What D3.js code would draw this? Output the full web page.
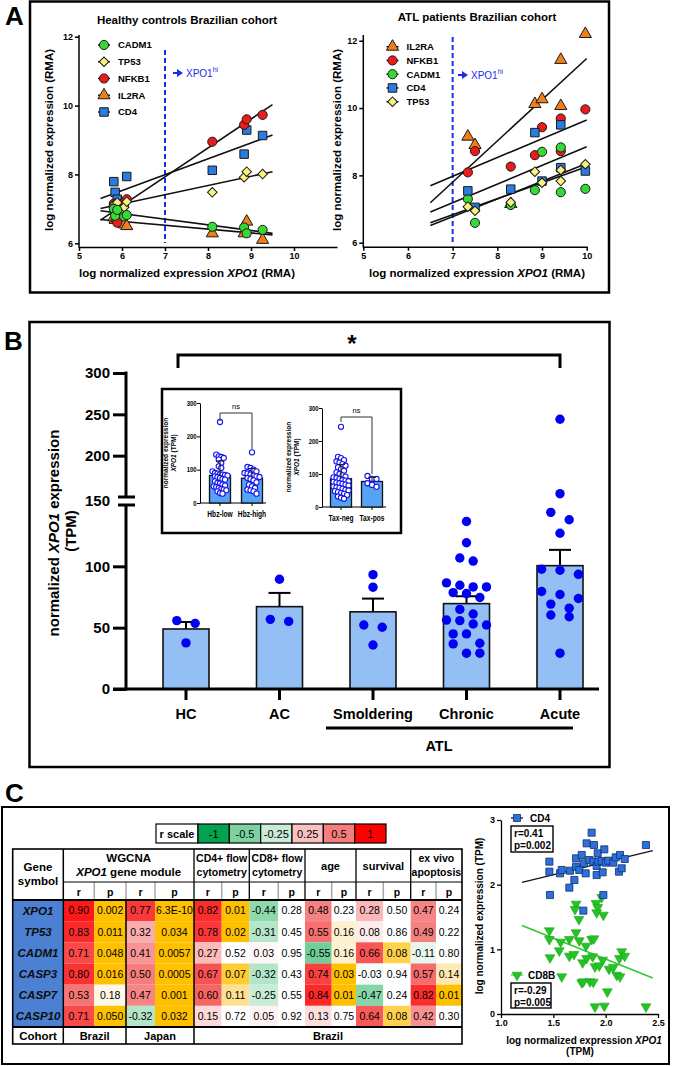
<!DOCTYPE html>
<html><head><meta charset="utf-8">
<script src="https://cdn.jsdelivr.net/npm/d3@7"></script>
<style>
html,body{margin:0;padding:0;background:#fff;}
svg{display:block;}
text{font-family:"Liberation Sans",Arial,Helvetica,sans-serif;}
</style></head>
<body>
<svg id="fig" width="685" height="1066"></svg>
<script>
// ================= DATA =================
// Panel A – healthy controls (RMA)
const hcXPO1  = [5.81, 5.84, 5.89, 6.05, 6.11, 8.10, 8.84, 8.90, 9.27];
const hcCADM1 = [7.00, 6.80, 6.97, 6.78, 6.82, 6.48, 6.46, 6.29, 6.39];
const hcTP53  = [7.10, 7.15, 7.18, 7.05, 7.21, 7.48, 7.92, 8.08, 8.01];
const hcNFKB1 = [7.15, 6.95, 6.60, 7.20, 7.28, 8.95, 9.44, 9.60, 9.73];
const hcIL2RA = [6.75, 6.68, 6.72, 6.55, 6.50, 6.29, 6.29, 6.63, 6.10];
const hcCD4   = [7.79, 7.48, 7.28, 7.15, 7.94, 8.12, 8.59, 9.29, 9.13];
// Panel A – ATL patients (RMA)
const atlXPO1  = [7.34, 7.50, 8.30, 8.84, 9.00, 9.42, 9.42, 9.97];
const atlIL2RA = [9.15, 8.90, 7.15, 10.12, 10.26, 11.43, 10.06, 12.20];
const atlNFKB1 = [8.09, 8.72, 8.26, 8.60, 9.43, 9.69, 8.72, 9.96];
const atlCADM1 = [7.30, 6.59, 7.12, 7.56, 8.70, 8.83, 7.50, 7.60];
const atlCD4   = [7.54, 7.05, 7.59, 9.27, 7.83, 9.50, 8.23, 8.13];
const atlTP53  = [7.07, 6.95, 7.20, 8.11, 7.78, 8.16, 7.83, 8.33];
const hcLegend  = ["CADM1", "TP53", "NFKB1", "IL2RA", "CD4"];
const atlLegend = ["IL2RA", "NFKB1", "CADM1", "CD4", "TP53"];
const aXTicks = [5, 6, 7, 8, 9, 10];
const aYTicks = [6, 8, 10, 12];

// Panel B – XPO1 TPM by group
const bGroups = ["HC", "AC", "Smoldering", "Chronic", "Acute"];
const bHC = [55.7, 53.5, 37.6];
const bAC = [55.1, 56.8, 89.5];
const bSmoldering = [93.2, 83.0, 52.2, 50.3, 35.9];
const bChronic = [136.6, 119.2, 106.8, 104.3, 86.5, 84.6, 83.2, 83.2, 78.6, 77.8, 74.6, 64.9, 61.1, 56.2, 55.7, 53.0, 52.2, 44.9, 44.9, 37.3, 36.8, 29.2, 29.2];
const bAcute = [244, 154, 144, 138, 127, 97.6, 96.8, 93.5, 79.5, 77.0, 73.8, 69.2, 65.9, 60.3, 58.9, 29.2];
const bTicksLow = [0, 50, 100];
const bTicksHigh = [200, 250, 300];
// Panel B inset
const hbzGroups = ["Hbz-low", "Hbz-high"];
const hbzLow = [243,145,140,138,135,130,120,110,105,95,90,88,86,85,84,82,80,78,75,72,70,65,60,58,55,52,50,48,45,42,40,38,35,30,28];
const hbzHigh = [152,108,105,100,95,90,88,85,82,80,78,75,72,68,62,55,50,45,40,38,35,28];
const taxGroups = ["Tax-neg", "Tax-pos"];
const taxNeg = [243,152,148,142,138,135,130,125,120,115,110,105,100,96,92,90,88,85,82,80,78,76,74,72,70,68,65,62,60,58,55,52,50,48,45,42,40,36,32,28,25];
const taxPos = [94, 85, 85, 72, 67, 61];
const insetTicks = [0, 100, 200, 300];

// Panel C – table
const genes = ["XPO1", "TP53", "CADM1", "CASP3", "CASP7", "CASP10"];
const brazilWgcnaR = [0.90, 0.83, 0.71, 0.80, 0.53, 0.71];
const brazilWgcnaP = ["0.002", "0.011", "0.048", "0.016", "0.18", "0.050"];
const japanWgcnaR  = [0.77, 0.32, 0.41, 0.50, 0.47, -0.32];
const japanWgcnaP  = ["6.3E-10", "0.034", "0.0057", "0.0005", "0.001", "0.032"];
const cd4FlowR = [0.82, 0.78, 0.27, 0.67, 0.60, 0.15];
const cd4FlowP = ["0.01", "0.02", "0.52", "0.07", "0.11", "0.72"];
const cd8FlowR = [-0.44, -0.31, 0.03, -0.32, -0.25, 0.05];
const cd8FlowP = ["0.28", "0.45", "0.95", "0.43", "0.55", "0.92"];
const ageR = [0.48, 0.55, -0.55, 0.74, 0.84, 0.13];
const ageP = ["0.23", "0.16", "0.16", "0.03", "0.01", "0.75"];
const survivalR = [0.28, 0.08, 0.66, -0.03, -0.47, 0.64];
const survivalP = ["0.50", "0.86", "0.08", "0.94", "0.24", "0.08"];
const apoptosisR = [0.47, 0.49, -0.11, 0.57, 0.82, 0.42];
const apoptosisP = ["0.24", "0.22", "0.80", "0.14", "0.01", "0.30"];
const rScaleSteps = [-1, -0.5, -0.25, 0.25, 0.5, 1];
// Panel C – scatter (log TPM)
const cd4X = [1.462,1.462,1.468,1.564,1.580,1.659,1.653,1.701,1.717,1.717,1.748,1.771,1.787,1.793,1.809,1.818,1.844,1.866,1.888,1.882,1.914,1.914,1.924,1.930,1.962,1.971,1.978,1.987,2.000,2.025,2.073,2.096,2.127,2.137,2.153,2.182,2.385];
const cd4Y = [2.356,2.201,1.840,2.175,2.227,2.216,1.954,2.072,2.278,2.407,2.227,2.459,1.598,2.330,2.175,2.639,2.381,2.804,2.613,2.356,2.289,2.149,2.485,2.356,2.366,2.191,1.840,2.546,2.340,2.371,2.340,2.423,2.201,2.459,2.253,2.397,2.613];
const cd8bX = [1.962,1.717,1.707,1.745,1.908,1.924,1.914,1.978,1.462,1.462,1.570,1.653,1.717,1.748,1.812,1.866,1.888,1.468,1.557,1.653,1.697,1.780,1.818,1.876,1.898,1.939,1.971,2.032,2.073,2.105,2.137,2.131,2.153,2.182,1.580,1.771,1.787,1.850,1.882,2.016,1.898,1.987,2.385];
const cd8bY = [1.804,1.701,1.619,1.464,1.711,1.649,1.567,1.531,1.289,1.155,1.113,1.155,1.258,1.134,1.052,1.155,1.165,0.871,0.979,0.897,0.923,0.794,0.861,0.887,0.732,0.747,0.835,0.696,0.722,0.603,0.577,0.861,0.964,0.897,0.577,0.485,0.500,0.500,0.495,0.345,0.113,0.124,0.113];
const sXTicks = [1.0, 1.5, 2.0, 2.5];
const sYTicks = [0, 1, 2, 3];

// ================= HELPERS =================
const svg = d3.select("#fig");
function txt(g, x, y, s, o = {}) {
  const t = g.append("text").attr("x", x).attr("y", y).text(s)
    .attr("font-size", o.size || 10).attr("font-weight", o.weight || "normal")
    .attr("text-anchor", o.anchor || "start").attr("fill", o.fill || "#000");
  if (o.rotate) t.attr("transform", `rotate(${o.rotate},${x},${y})`);
  if (o.style) t.attr("font-style", o.style);
  return t;
}
function rich(g, x, y, parts, o = {}) {
  const t = g.append("text").attr("x", x).attr("y", y)
    .attr("font-size", o.size || 10).attr("font-weight", o.weight || "normal")
    .attr("text-anchor", o.anchor || "start").attr("fill", o.fill || "#000");
  if (o.rotate) t.attr("transform", `rotate(${o.rotate},${x},${y})`);
  parts.forEach(p => t.append("tspan").text(p[0]).attr("font-style", p[1] ? "italic" : "normal"));
  return t;
}
function line(g, x1, y1, x2, y2, w = 1, c = "#000") {
  return g.append("line").attr("x1", x1).attr("y1", y1).attr("x2", x2).attr("y2", y2)
    .attr("stroke", c).attr("stroke-width", w);
}
function styleAxis(sel, size, weight, sw) {
  sel.attr("font-family", null).attr("font-size", null);
  sel.selectAll("text").attr("font-size", size).attr("font-weight", weight).attr("fill", "#000");
  sel.selectAll("line,path").attr("stroke", "#000").attr("stroke-width", sw);
}
function linfit(xs, ys) {
  const mx = d3.mean(xs), my = d3.mean(ys);
  let sxy = 0, sxx = 0;
  xs.forEach((x, i) => { sxy += (x - mx) * (ys[i] - my); sxx += (x - mx) * (x - mx); });
  const b = sxy / sxx;
  return { a: my - b * mx, b };
}
function swarm(vals, yfn, rowH, maxSp, width) {
  const pts = vals.map(v => ({ v, y: yfn(v), dx: 0 })).sort((a, b) => a.y - b.y);
  const rows = []; let cur = null;
  pts.forEach(p => {
    if (!cur || p.y - cur.y0 > rowH) { cur = { y0: p.y, pts: [] }; rows.push(cur); }
    cur.pts.push(p);
  });
  const maxRow = d3.max(rows, r => r.pts.length);
  const d = maxRow > 1 ? Math.min(maxSp, width / (maxRow - 1)) : 0;
  rows.forEach(r => r.pts.forEach((p, i) => p.dx = (i - (r.pts.length - 1) / 2) * d));
  return pts;
}

// ================= PANEL A =================
const geneStyle = {
  CADM1: { shape: "circle", fill: "#35d835" },
  TP53: { shape: "diamond", fill: "#f8f27c" },
  NFKB1: { shape: "circle", fill: "#ec1b1b" },
  IL2RA: { shape: "triangle", fill: "#f07f1a" },
  CD4: { shape: "square", fill: "#2b7ce0" }
};
function symPath(shape) {
  if (shape === "circle") return d3.symbol(d3.symbolCircle, 66)();
  if (shape === "square") return d3.symbol(d3.symbolSquare, 72)();
  if (shape === "diamond") return d3.symbol(d3.symbolSquare, 46)();
  return d3.symbol(d3.symbolTriangle, 64)();
}
function drawSym(g, shape, fill, cx, cy) {
  g.append("path").attr("d", symPath(shape))
    .attr("transform", `translate(${cx},${cy})` + (shape === "diamond" ? " rotate(45)" : ""))
    .attr("fill", fill).attr("stroke", "#1a1a1a").attr("stroke-width", 1);
}
function arrowHi(g, x0, yc) {
  g.append("path").attr("fill", "#1a2cf0")
    .attr("d", `M${x0},${yc - 1} h4 v-3 l6,4 l-6,4 v-3 h-4 z`);
  const t = g.append("text").attr("x", x0 + 13).attr("y", yc + 3.6).attr("font-size", 10).attr("fill", "#1a2cf0");
  t.append("tspan").text("XPO1");
  t.append("tspan").attr("dy", -4.5).attr("font-size", 7).text("hi");
}
svg.append("rect").attr("x", 30).attr("y", 1.5).attr("width", 579).attr("height", 291)
  .attr("fill", "none").attr("stroke", "#000").attr("stroke-width", 2.5);
txt(svg, 5, 25, "A", { size: 26, weight: "bold" });

function panelA(o) {
  const g = svg.append("g");
  const x = d3.scaleLinear().domain(o.xDom).range(o.xRng);
  const y = d3.scaleLinear().domain([6, 12]).range(o.yRng);
  txt(g, o.titleX, o.titleY, o.title, { size: 11.5, weight: "bold", anchor: "middle" });
  const xa = g.append("g").attr("transform", `translate(0,${o.baseY})`)
    .call(d3.axisBottom(x).tickValues(aXTicks).tickSize(4).tickSizeOuter(0).tickPadding(2).tickFormat(d3.format("d")));
  styleAxis(xa, 9, "bold", 1.5);
  const ya = g.append("g").attr("transform", `translate(${o.xRng[0]},0)`)
    .call(d3.axisLeft(y).tickValues(aYTicks).tickSize(4).tickPadding(2).tickFormat(d3.format("d")));
  ya.select(".domain").remove();
  styleAxis(ya, 9, "bold", 1.5);
  line(g, o.xRng[0], o.baseY + 0.75, o.xRng[0], o.topY, 1.5);
  line(g, x(7), o.dashY[0], x(7), o.dashY[1], 2, "#1a2cf0").attr("stroke-dasharray", "5,3");
  arrowHi(g, o.arrowX, o.arrowY);
  o.order.forEach(gene => {
    const f = linfit(o.xs, o.data[gene]);
    line(g, x(o.fit[0]), y(f.a + f.b * o.fit[0]), x(o.fit[1]), y(f.a + f.b * o.fit[1]), 1.6, "#111");
  });
  o.order.forEach(gene => {
    const st = geneStyle[gene];
    o.data[gene].forEach((v, i) => drawSym(g, st.shape, st.fill, x(o.xs[i]), y(v)));
  });
  o.legend.forEach((gene, i) => {
    const yy = o.legY + i * o.legStep;
    line(g, o.legX - 6, yy, o.legX + 6, yy, 1.4);
    drawSym(g, geneStyle[gene].shape, geneStyle[gene].fill, o.legX, yy);
    txt(g, o.legX + 14, yy + 3.4, gene, { size: 9.5, weight: "bold" });
  });
  rich(g, o.titleX, 277, [["log normalized expression ", false], ["XPO1", true], [" (RMA)", false]],
    { size: 11.5, weight: "bold", anchor: "middle" });
  txt(g, o.yTitleX, 140, "log normalized expression (RMA)", { size: 11.5, weight: "bold", anchor: "middle", rotate: -90 });
}
panelA({
  xDom: [5, 11], xRng: [79, 337], yRng: [243.3, 36.7], baseY: 247, topY: 35,
  title: "Healthy controls Brazilian cohort", titleX: 187, titleY: 23.5, yTitleX: 52.5,
  dashY: [50, 243], arrowX: 173, arrowY: 73,
  xs: hcXPO1, data: { CADM1: hcCADM1, TP53: hcTP53, NFKB1: hcNFKB1, IL2RA: hcIL2RA, CD4: hcCD4 },
  order: ["CD4", "IL2RA", "NFKB1", "TP53", "CADM1"], fit: [5.5, 9.5],
  legend: hcLegend, legX: 104, legY: 45, legStep: 16.75
});
panelA({
  xDom: [5, 10], xRng: [363.3, 586.7], yRng: [242.7, 40.7], baseY: 246.7, topY: 35,
  title: "ATL patients Brazilian cohort", titleX: 477, titleY: 21, yTitleX: 341,
  dashY: [37, 245], arrowX: 458, arrowY: 75,
  xs: atlXPO1, data: { IL2RA: atlIL2RA, NFKB1: atlNFKB1, CADM1: atlCADM1, CD4: atlCD4, TP53: atlTP53 },
  order: ["IL2RA", "NFKB1", "CADM1", "CD4", "TP53"], fit: [6.5, 10],
  legend: atlLegend, legX: 392.5, legY: 46.7, legStep: 13.75
});

// ================= PANEL B =================
const gB = svg.append("g");
gB.append("rect").attr("x", 29.5).attr("y", 322).attr("width", 580).attr("height", 445)
  .attr("fill", "none").attr("stroke", "#000").attr("stroke-width", 2.5);
txt(gB, 4, 350, "B", { size: 26, weight: "bold" });
const bx = d3.scalePoint().domain(bGroups).range([186, 560]);
const byLow = d3.scaleLinear().domain([0, 150]).range([689, 505]);
const byHigh = d3.scaleLinear().domain([150, 300]).range([497, 373]);
const by = v => (v <= 150 ? byLow(v) : byHigh(v));
const bData = { HC: bHC, AC: bAC, Smoldering: bSmoldering, Chronic: bChronic, Acute: bAcute };
const barW = 46;
bGroups.forEach(gname => {
  const vals = bData[gname];
  const m = d3.mean(vals), sem = d3.deviation(vals) / Math.sqrt(vals.length);
  const cx = bx(gname);
  line(gB, cx, by(m), cx, by(m + sem), 2);
  line(gB, cx - 11, by(m + sem), cx + 11, by(m + sem), 2);
  gB.append("rect").attr("x", cx - barW / 2).attr("y", by(m)).attr("width", barW).attr("height", 689 - by(m))
    .attr("fill", "#93bff5").attr("stroke", "#111").attr("stroke-width", 1.6);
});
bGroups.forEach(gname => {
  const cx = bx(gname);
  swarm(bData[gname], by, 9.5, 18.4, 40).forEach(p => {
    gB.append("circle").attr("cx", cx + p.dx).attr("cy", p.y).attr("r", 4.7).attr("fill", "#0000f5");
  });
});
const yaLow = gB.append("g").attr("transform", "translate(126,0)")
  .call(d3.axisLeft(byLow).tickValues(bTicksLow).tickSize(13).tickPadding(3));
yaLow.select(".domain").remove();
styleAxis(yaLow, 15, "bold", 3);
const yaHigh = gB.append("g").attr("transform", "translate(126,0)")
  .call(d3.axisLeft(byHigh).tickValues(bTicksHigh).tickSize(13).tickPadding(3));
yaHigh.select(".domain").remove();
styleAxis(yaHigh, 15, "bold", 3);
line(gB, 126, byHigh(150), 126, byHigh(300) - 1.5, 3);
line(gB, 126, 690.5, 126, byLow(150), 3);
line(gB, 118, byLow(150), 135, byLow(150), 3);
line(gB, 118, byHigh(150), 135, byHigh(150), 3);
txt(gB, 110, (byLow(150) + byHigh(150)) / 2 + 5.3, "150", { size: 15, weight: "bold", anchor: "end" });
line(gB, 113, 689, 599, 689, 3);
bGroups.forEach(gname => {
  line(gB, bx(gname), 689, bx(gname), 700, 3);
  txt(gB, bx(gname), 719, gname, { size: 14.5, weight: "bold", anchor: "middle" });
});
line(gB, 326, 728, 573, 728, 3);
txt(gB, 439, 751, "ATL", { size: 14.5, weight: "bold", anchor: "middle" });
rich(gB, 59, 533, [["normalized ", false], ["XPO1", true], [" expression", false]],
  { size: 15, weight: "bold", anchor: "middle", rotate: -90 });
txt(gB, 76, 531, "(TPM)", { size: 15, weight: "bold", anchor: "middle", rotate: -90 });
const brL = bx("HC") - 8, brR = bx("Acute");
gB.append("path").attr("d", `M${brL},368 V355 H${brR} V368`).attr("fill", "none")
  .attr("stroke", "#000").attr("stroke-width", 3);
txt(gB, 352, 352, "*", { size: 24, weight: "bold", anchor: "middle" });

// ---------- Inset ----------
gB.append("rect").attr("x", 162).attr("y", 389).attr("width", 239).attr("height", 144)
  .attr("fill", "#fff").attr("stroke", "#000").attr("stroke-width", 2.5);
function insetPlot(o) {
  const g = gB.append("g");
  const y = d3.scaleLinear().domain([0, 300]).range([o.y0, o.y300]);
  const x = d3.scalePoint().domain(o.names).range(o.centers);
  const ya = g.append("g").attr("transform", `translate(${o.axX},0)`)
    .call(d3.axisLeft(y).tickValues(insetTicks).tickSize(3).tickPadding(1).tickSizeOuter(0));
  styleAxis(ya, 7, "bold", 1);
  ya.selectAll("text").attr("transform", "scale(0.85,1)");
  line(g, o.axX, o.y0, o.xEnd, o.y0, 1);
  o.names.forEach((nm, i) => {
    const vals = o.vals[i], cx = x(nm);
    const m = d3.mean(vals), sd = d3.deviation(vals);
    g.append("rect").attr("x", cx - 10.5).attr("y", y(m)).attr("width", 21).attr("height", o.y0 - y(m))
      .attr("fill", "#56a2f4").attr("stroke", "#111").attr("stroke-width", 1.3);
    line(g, cx, o.y0, cx, o.y0 + 3, 1);
    g.append("text").attr("transform", `translate(${cx},${o.labY}) scale(0.78,1)`)
      .attr("text-anchor", "middle").attr("font-size", 8.5).attr("font-weight", "bold").text(nm);
    swarm(vals, y, 4.5, 4.5, 15).forEach(p => {
      g.append("circle").attr("cx", cx + p.dx).attr("cy", p.y).attr("r", 2.6)
        .attr("fill", "#fff").attr("stroke", "#1414ee").attr("stroke-width", 1.1);
    });
    line(g, cx, y(m), cx, y(m + sd), 1, "#222");
    line(g, cx - 4, y(m + sd), cx + 4, y(m + sd), 1, "#222");
  });
  const c0 = x(o.names[0]), c1 = x(o.names[1]);
  g.append("path").attr("d", `M${c0},${o.br[1]} V${o.br[0]} H${c1} V${o.br[2]}`)
    .attr("fill", "none").attr("stroke", "#333").attr("stroke-width", 1);
  txt(g, (c0 + c1) / 2, o.br[0] - 4, "ns", { size: 7.5, anchor: "middle" });
  txt(g, o.tX, o.tY, "normalized expression", { size: 6.5, weight: "bold", anchor: "middle", rotate: -90 });
  rich(g, o.tX + 7.5, o.tY, [["XPO1", true], [" (TPM)", false]], { size: 6.5, weight: "bold", anchor: "middle", rotate: -90 });
}
insetPlot({ names: hbzGroups, vals: [hbzLow, hbzHigh], centers: [220, 252], axX: 200, xEnd: 266,
  y0: 503, y300: 403, labY: 517, br: [413, 421, 449], tX: 168, tY: 453 });
insetPlot({ names: taxGroups, vals: [taxNeg, taxPos], centers: [341, 372], axX: 322, xEnd: 386,
  y0: 507, y300: 408, labY: 521, br: [417, 422, 474], tX: 291, tY: 457 });

// ================= PANEL C =================
const gC = svg.append("g");
txt(gC, 5, 802, "C", { size: 26, weight: "bold" });
gC.append("rect").attr("x", 2).attr("y", 807).attr("width", 667).attr("height", 257)
  .attr("fill", "none").attr("stroke", "#000").attr("stroke-width", 2);
const rColor = d3.scaleLinear().domain([-1, -0.5, -0.25, 0, 0.25, 0.5, 1])
  .range(["#02a24e", "#7dd3a0", "#c8ecd7", "#ffffff", "#fbc0c0", "#f57d7d", "#ff0000"]).clamp(true);
const pColor = d3.scaleLinear().domain([0.05, 0.08, 0.11, 0.16, 0.2])
  .range(["#ffc000", "#ffd24d", "#ffe08f", "#fff1cf", "#ffffff"]).clamp(true);
const legCells = d3.scaleBand().domain(rScaleSteps).range([198, 386]);
gC.append("rect").attr("x", 156).attr("y", 824).attr("width", 42).attr("height", 19)
  .attr("fill", "#fff").attr("stroke", "#000").attr("stroke-width", 1.2);
txt(gC, 177, 837.5, "r scale", { size: 11, weight: "bold", anchor: "middle" });
rScaleSteps.forEach(v => {
  gC.append("rect").attr("x", legCells(v)).attr("y", 824).attr("width", legCells.bandwidth()).attr("height", 19)
    .attr("fill", rColor(v)).attr("stroke", "#000").attr("stroke-width", 1.2);
  txt(gC, legCells(v) + legCells.bandwidth() / 2, 837.5, String(v), { size: 11, anchor: "middle" });
});
const colW = [31, 31.7, 29, 39, 27.7, 27.6, 29, 26.7, 26.7, 24.3, 27.3, 27.4, 25.3, 26];
const edges = [63.3];
colW.forEach(w => edges.push(edges[edges.length - 1] + w));
const tL = 12.7, tR = edges[14], tT = 849, h1 = 882, h2 = 900, dB = 1027, tB = 1044;
const rowS = d3.scaleBand().domain(genes).range([h2, dB]);
const tableCols = [[brazilWgcnaR, brazilWgcnaP], [japanWgcnaR, japanWgcnaP], [cd4FlowR, cd4FlowP],
  [cd8FlowR, cd8FlowP], [ageR, ageP], [survivalR, survivalP], [apoptosisR, apoptosisP]];
gC.append("rect").attr("x", tL).attr("y", h2).attr("width", 63.3 - tL).attr("height", dB - h2).attr("fill", "#4c80d2");
genes.forEach((gene, ri) => {
  const yy = rowS(gene), hh = rowS.bandwidth();
  txt(gC, (tL + 63.3) / 2, yy + hh / 2 + 4, gene, { size: 11.5, weight: "bold", style: "italic", anchor: "middle", fill: "#0d0d0d" });
  tableCols.forEach((pair, k) => {
    const r = pair[0][ri], p = pair[1][ri];
    const xr = edges[2 * k], xp = edges[2 * k + 1];
    gC.append("rect").attr("x", xr).attr("y", yy).attr("width", colW[2 * k]).attr("height", hh).attr("fill", rColor(r));
    gC.append("rect").attr("x", xp).attr("y", yy).attr("width", colW[2 * k + 1]).attr("height", hh).attr("fill", pColor(+p));
    txt(gC, xr + colW[2 * k] / 2, yy + hh / 2 + 3.8, r.toFixed(2), { size: 10.5, anchor: "middle" });
    txt(gC, xp + colW[2 * k + 1] / 2, yy + hh / 2 + 3.8, p, { size: 10.5, anchor: "middle" });
  });
});
txt(gC, (tL + 63.3) / 2, 871, "Gene", { size: 11.5, weight: "bold", anchor: "middle" });
txt(gC, (tL + 63.3) / 2, 885, "symbol", { size: 11.5, weight: "bold", anchor: "middle" });
const headGroups = [
  { from: 0, to: 4, size: 11.5, lines: [[["WGCNA", false]], [["XPO1", true], [" gene module", false]]] },
  { from: 4, to: 6, size: 10.5, lines: [[["CD4+ flow", false]], [["cytometry", false]]] },
  { from: 6, to: 8, size: 10.5, lines: [[["CD8+ flow", false]], [["cytometry", false]]] },
  { from: 8, to: 10, size: 11, lines: [[["age", false]]] },
  { from: 10, to: 12, size: 11, lines: [[["survival", false]]] },
  { from: 12, to: 14, size: 10.5, lines: [[["ex vivo", false]], [["apoptosis", false]]] }
];
headGroups.forEach(hg => {
  const cx = (edges[hg.from] + edges[hg.to]) / 2;
  if (hg.lines.length === 1) rich(gC, cx, 869.5, hg.lines[0], { size: hg.size, weight: "bold", anchor: "middle" });
  else hg.lines.forEach((ln, i) => rich(gC, cx, 862 + i * 14, ln, { size: hg.size, weight: "bold", anchor: "middle" }));
});
for (let c = 0; c < 14; c++) {
  txt(gC, (edges[c] + edges[c + 1]) / 2, 896, c % 2 === 0 ? "r" : "p", { size: 10.5, weight: "bold", anchor: "middle" });
}
txt(gC, (tL + 63.3) / 2, 1040, "Cohort", { size: 11.5, weight: "bold", anchor: "middle" });
txt(gC, (edges[0] + edges[2]) / 2, 1040, "Brazil", { size: 11, weight: "bold", anchor: "middle" });
txt(gC, (edges[2] + edges[4]) / 2, 1040, "Japan", { size: 11, weight: "bold", anchor: "middle" });
txt(gC, (edges[4] + edges[14]) / 2, 1040, "Brazil", { size: 11, weight: "bold", anchor: "middle" });
for (let c = 1; c < 14; c += 2) line(gC, edges[c], h1, edges[c], h2, 1.5, "#a8a8a8");
line(gC, edges[2], h1, edges[2], h2, 1.5, "#a8a8a8");
[4, 6, 8, 10, 12].forEach(c => line(gC, edges[c], tT, edges[c], h2, 1.3));
line(gC, edges[2], h2, edges[2], tB, 1.5);
line(gC, edges[4], h2, edges[4], tB, 1.5);
line(gC, 63.3, tT, 63.3, tB, 1.5);
line(gC, 63.3, h1, tR, h1, 1);
line(gC, tL, h2, tR, h2, 2);
line(gC, tL, dB, tR, dB, 2);
gC.append("rect").attr("x", tL).attr("y", tT).attr("width", tR - tL).attr("height", tB - tT)
  .attr("fill", "none").attr("stroke", "#000").attr("stroke-width", 1.6);

// ---------- scatter ----------
const sx = d3.scaleLinear().domain([1, 2.5]).range([501, 658]);
const sy = d3.scaleLinear().domain([0, 3]).range([1014, 820]);
const sxa = gC.append("g").attr("transform", "translate(0,1014)")
  .call(d3.axisBottom(sx).tickValues(sXTicks).tickFormat(d3.format(".1f")).tickSize(4).tickSizeOuter(0).tickPadding(2));
styleAxis(sxa, 9, "bold", 1.3);
const sya = gC.append("g").attr("transform", "translate(501,0)")
  .call(d3.axisLeft(sy).tickValues(sYTicks).tickFormat(d3.format("d")).tickSize(4).tickSizeOuter(0).tickPadding(2));
styleAxis(sya, 9, "bold", 1.3);
const fitCD4 = linfit(cd4X, cd4Y), fitCD8 = linfit(cd8bX, cd8bY);
line(gC, sx(1.2), sy(fitCD4.a + fitCD4.b * 1.2), sx(2.45), sy(fitCD4.a + fitCD4.b * 2.45), 1.2, "#111");
line(gC, sx(1.2), sy(fitCD8.a + fitCD8.b * 1.2), sx(2.45), sy(fitCD8.a + fitCD8.b * 2.45), 1.5, "#2ecb2e");
const sqSym = d3.symbol(d3.symbolSquare, 50)();
const triSym = d3.symbol(d3.symbolTriangle, 42)();
cd8bX.forEach((v, i) => gC.append("path").attr("d", triSym)
  .attr("transform", `translate(${sx(v)},${sy(cd8bY[i])}) rotate(180)`)
  .attr("fill", "#24c424").attr("stroke", "#17a317").attr("stroke-width", 0.6));
cd4X.forEach((v, i) => gC.append("path").attr("d", sqSym)
  .attr("transform", `translate(${sx(v)},${sy(cd4Y[i])})`)
  .attr("fill", "#2f6fd8").attr("stroke", "#0d2f70").attr("stroke-width", 0.8));
line(gC, 511, 818, 523, 818, 1.2);
gC.append("path").attr("d", sqSym).attr("transform", "translate(517,818)")
  .attr("fill", "#2f6fd8").attr("stroke", "#0d2f70").attr("stroke-width", 0.8);
txt(gC, 530, 821.5, "CD4", { size: 10, weight: "bold" });
gC.append("rect").attr("x", 511).attr("y", 826).attr("width", 42).attr("height", 26)
  .attr("fill", "#fff").attr("stroke", "#000").attr("stroke-width", 1.4);
txt(gC, 514, 837, "r=0.41", { size: 10, weight: "bold" });
txt(gC, 514, 849, "p=0.002", { size: 10, weight: "bold" });
line(gC, 511, 975, 523, 975, 1.2, "#2ecb2e");
gC.append("path").attr("d", triSym).attr("transform", "translate(517,975) rotate(180)")
  .attr("fill", "#24c424").attr("stroke", "#17a317").attr("stroke-width", 0.6);
txt(gC, 528, 978.5, "CD8B", { size: 10, weight: "bold" });
gC.append("rect").attr("x", 511).attr("y", 983).attr("width", 40).attr("height", 25)
  .attr("fill", "#fff").attr("stroke", "#000").attr("stroke-width", 1.4);
txt(gC, 514, 994, "r=-0.29", { size: 10, weight: "bold" });
txt(gC, 514, 1006, "p=0.005", { size: 10, weight: "bold" });
rich(gC, 584, 1044, [["log normalized expression ", false], ["XPO1", true]], { size: 10, weight: "bold", anchor: "middle" });
txt(gC, 580, 1055, "(TPM)", { size: 10, weight: "bold", anchor: "middle" });
txt(gC, 483, 916, "log normalized expression  (TPM)", { size: 10, weight: "bold", anchor: "middle", rotate: -90 });
</script>
</body></html>
